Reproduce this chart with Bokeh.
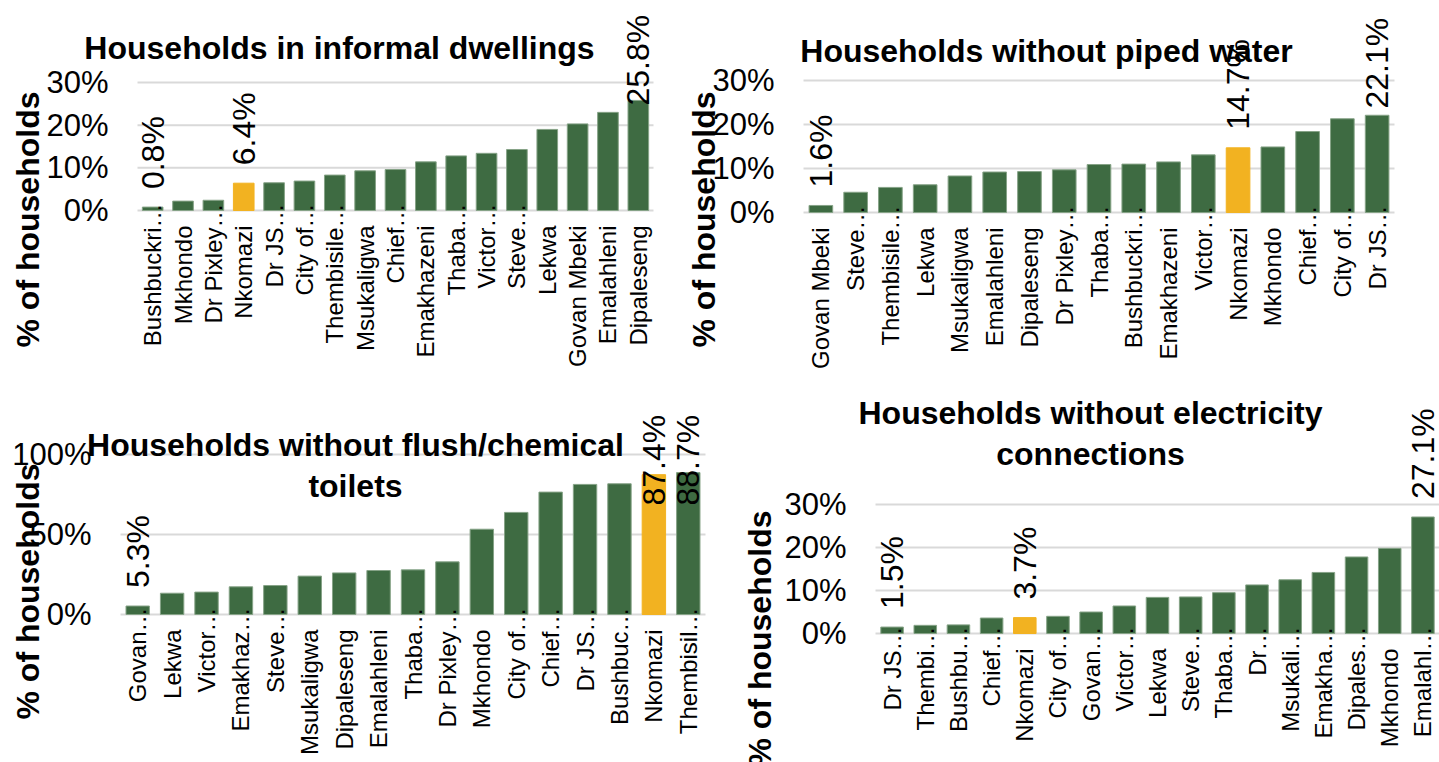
import math
from bokeh.plotting import figure
from bokeh.models import (ColumnDataSource, Range1d, FixedTicker, LinearAxis,
                          PrintfTickFormatter, Label)
from bokeh.layouts import column, row
from bokeh.embed import file_html
from bokeh.resources import INLINE
from bokeh.core.properties import value

# ---- data (percentage of households, sorted ascending within each indicator) ----
informal_names = ["Bushbuckri…", "Mkhondo", "Dr Pixley…", "Nkomazi", "Dr JS…", "City of…",
                  "Thembisile…", "Msukaligwa", "Chief…", "Emakhazeni", "Thaba…", "Victor…",
                  "Steve…", "Lekwa", "Govan Mbeki", "Emalahleni", "Dipaleseng"]
informal_vals = [0.8, 2.2, 2.4, 6.4, 6.5, 6.9, 8.3, 9.3, 9.6, 11.4, 12.8, 13.4, 14.3,
                 19.0, 20.3, 23.0, 25.8]

water_names = ["Govan Mbeki", "Steve…", "Thembisile…", "Lekwa", "Msukaligwa", "Emalahleni",
               "Dipaleseng", "Dr Pixley…", "Thaba…", "Bushbuckri…", "Emakhazeni", "Victor…",
               "Nkomazi", "Mkhondo", "Chief…", "City of…", "Dr JS…"]
water_vals = [1.6, 4.6, 5.7, 6.3, 8.3, 9.2, 9.3, 9.7, 10.9, 11.0, 11.5, 13.1, 14.7, 14.9,
              18.4, 21.3, 22.1]

toilet_names = ["Govan…", "Lekwa", "Victor…", "Emakhaz…", "Steve…", "Msukaligwa", "Dipaleseng",
                "Emalahleni", "Thaba…", "Dr Pixley…", "Mkhondo", "City of…", "Chief…", "Dr JS…",
                "Bushbuc…", "Nkomazi", "Thembisil…"]
toilet_vals = [5.3, 13.3, 14.0, 17.3, 18.1, 24.0, 26.0, 27.5, 27.9, 32.9, 53.3, 63.8, 76.5,
               81.3, 81.7, 87.4, 88.7]

elec_names = ["Dr JS…", "Thembi…", "Bushbu…", "Chief…", "Nkomazi", "City of…", "Govan…",
              "Victor…", "Lekwa", "Steve…", "Thaba…", "Dr…", "Msukali…", "Emakha…", "Dipales…",
              "Mkhondo", "Emalahl…"]
elec_vals = [1.5, 1.9, 2.0, 3.6, 3.7, 4.0, 5.0, 6.4, 8.4, 8.5, 9.5, 11.3, 12.5, 14.2, 17.8,
             19.8, 27.1]

small_ticks = [0, 10, 20, 30]
toilet_ticks = [0, 50, 100]

HIGHLIGHT = "Nkomazi"
GREEN = "#3E6B42"
GREEN_EDGE = "#86A387"
ORANGE = "#F2B221"
GRID = "#D9D9D9"
FONT = "Liberation Sans"
BIG = "32px"


def category_axis(names, ticks, standoff):
    """Category labels at the zero line for the given bar positions."""
    n = len(names)
    ax = LinearAxis(ticker=FixedTicker(ticks=ticks), fixed_location=0,
                    bounds=(-0.5, n - 0.5),
                    major_label_overrides={i: names[i] for i in ticks})
    ax.axis_line_color = None
    ax.major_tick_line_color = None
    ax.minor_tick_line_color = None
    ax.major_tick_in = 0
    ax.major_tick_out = 0
    ax.major_label_orientation = math.pi / 2
    ax.major_label_standoff = standoff
    ax.major_label_text_font = FONT
    ax.major_label_text_font_size = "24px"
    ax.major_label_text_color = "black"
    return ax


def make_panel(names, vals, ticks, title, W, H, pl, pr, zero_px, top_px, label_cap_px,
               title_xy, ytitle_xy):
    """One bar chart panel.  The plot frame fills the whole figure; the plot area
    (bars + gridlines) spans pixels pl..pr horizontally, zero_px is the pixel row of
    the 0 value and top_px that of the highest tick (rows counted from the top)."""
    n = len(names)
    c = (pr - pl) / n                              # pixels per category
    ppu = (zero_px - top_px) / ticks[-1]          # pixels per percentage point

    def dx(px):                                    # pixel column -> data x
        return -0.5 + (px - pl) / c

    def dy(py):                                    # pixel row -> data y
        return (zero_px - py) / ppu

    p = figure(width=W, height=H, x_range=Range1d(dx(0), dx(W)),
               y_range=Range1d(dy(H), dy(0)), output_backend="svg", toolbar_location=None,
               min_border=0, x_axis_type=None, y_axis_type=None)
    p.outline_line_color = None
    p.background_fill_color = "white"
    p.border_fill_color = "white"
    p.xgrid.visible = False
    p.ygrid.visible = False

    xs = list(range(n))

    # horizontal gridlines at the tick values, across the plot area
    p.segment(x0=[-0.5] * len(ticks), x1=[n - 0.5] * len(ticks), y0=ticks, y1=ticks,
              line_color=GRID, line_width=2)

    colors = [ORANGE if nm == HIGHLIGHT else GREEN for nm in names]
    edges = [ORANGE if nm == HIGHLIGHT else GREEN_EDGE for nm in names]
    src = ColumnDataSource(dict(x=xs, val=vals, color=colors, edge=edges))
    p.vbar(x="x", top="val", width=0.68, source=src, fill_color="color",
           line_color="edge", line_width=1)

    # value labels for the first, highlighted and last bars
    idx = [0, names.index(HIGHLIGHT), n - 1]
    gap = 18
    lab_x, lab_y, lab_t = [], [], []
    for i in idx:
        v = vals[i]
        bar_top_px = zero_px - v * ppu
        start_px = max(bar_top_px - gap, label_cap_px)
        lab_x.append(i)
        lab_y.append(dy(start_px))
        lab_t.append(f"{v:.1f}%")
    p.text(x=lab_x, y=lab_y, text=lab_t, angle=math.pi / 2, text_align="left",
           text_baseline="middle", text_font=value(FONT), text_font_size=BIG,
           text_color="black")

    # value axis, pinned to the left edge of the plot area
    yaxis = LinearAxis(ticker=FixedTicker(ticks=ticks),
                       formatter=PrintfTickFormatter(format="%d%%"),
                       fixed_location=-0.5, bounds=(ticks[0], ticks[-1]))
    yaxis.axis_line_color = None
    yaxis.major_tick_line_color = None
    yaxis.minor_tick_line_color = None
    yaxis.major_tick_in = 0
    yaxis.major_tick_out = 0
    yaxis.major_label_standoff = 29
    yaxis.major_label_text_font = FONT
    yaxis.major_label_text_font_size = "31px"
    yaxis.major_label_text_color = "black"
    p.add_layout(yaxis, "left")

    # category axes: full names sit below the zero line, shortened names
    # let their ellipsis run up over the line
    full = [i for i, nm in enumerate(names) if not nm.endswith("…")]
    short = [i for i, nm in enumerate(names) if nm.endswith("…")]
    p.add_layout(category_axis(names, full, 15), "below")
    if short:
        p.add_layout(category_axis(names, short, -7), "below")

    # chart title and vertical axis title
    tx, ty = title_xy
    p.add_layout(Label(x=dx(tx), y=dy(ty), text=title, text_align="center",
                       text_baseline="middle", text_font=FONT, text_font_size=BIG,
                       text_font_style="bold", text_color="black", text_line_height=1.15))
    yx, yy = ytitle_xy
    p.add_layout(Label(x=dx(yx), y=dy(yy), text="% of households", angle=math.pi / 2,
                       text_align="center", text_baseline="middle", text_font=FONT,
                       text_font_size=BIG, text_font_style="bold", text_color="black"))
    return p


p1 = make_panel(informal_names, informal_vals, small_ticks, "Households in informal dwellings",
                680, 390, 137, 653, 210, 82, 105, (339, 47), (27, 219))
p2 = make_panel(water_names, water_vals, small_ticks, "Households without piped water",
                759, 390, 123, 714, 212, 80, 108, (366, 50), (23, 219))
p3 = make_panel(toilet_names, toilet_vals, toilet_ticks,
                "Households without flush/chemical\ntoilets",
                720, 372, 120, 705, 224, 64, 115, (355, 75), (27, 201))
p4 = make_panel(elec_names, elec_vals, small_ticks,
                "Households without electricity\nconnections",
                719, 372, 155, 719, 243, 114, 0, (370, 43), (39, 248))

layout = column(row(p1, p2), row(p3, p4))
open("out.html", "w").write(file_html(layout, INLINE))
